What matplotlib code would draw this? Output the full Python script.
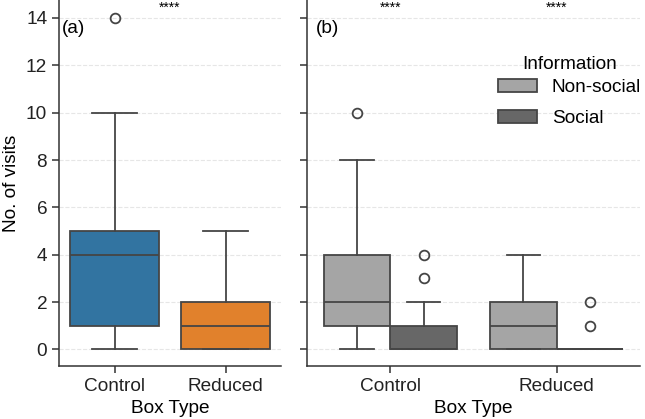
import matplotlib
matplotlib.use("Agg")
import matplotlib.pyplot as plt
from matplotlib.patches import Patch

plt.rcParams['font.family'] = ['Liberation Sans', 'DejaVu Sans']

# ---- data ----
categories = ["Control", "Reduced"]
info_levels = ["Non-social", "Social"]

# panel (a): box stats per box type  [whislo, q1, median, q3, whishi]
a_stats = {
    "Control": [0, 1, 4, 5, 10],
    "Reduced": [0, 0, 1, 2, 5],
}
a_fliers = {"Control": [14], "Reduced": []}

# panel (b): box stats per box type and information
b_stats = {
    ("Control", "Non-social"): [0, 1, 2, 4, 8],
    ("Control", "Social"): [0, 0, 0, 1, 2],
    ("Reduced", "Non-social"): [0, 0, 1, 2, 4],
    ("Reduced", "Social"): [0, 0, 0, 0, 0],
}
b_fliers = {
    ("Control", "Non-social"): [10],
    ("Control", "Social"): [3, 4],
    ("Reduced", "Non-social"): [],
    ("Reduced", "Social"): [1, 2],
}
signif_a = "****"
signif_b = ["****", "****"]

yticks = [0, 2, 4, 6, 8, 10, 12, 14]

# ---- styles ----
a_colors = ["#3274a1", "#e1812c"]
b_colors = {"Non-social": "#a5a5a5", "Social": "#676767"}
line_c = "#454545"
lw = 1.3
fs = 13.7


def mk(vals, fl, label=""):
    lo, q1, med, q3, hi = vals
    return dict(whislo=lo, q1=q1, med=med, q3=q3, whishi=hi, fliers=fl, label=label)


def style_bxp(ax, stats, positions, widths, colors):
    bp = ax.bxp(stats, positions=positions, widths=widths, patch_artist=True,
                showfliers=True, manage_ticks=False,
                boxprops=dict(edgecolor=line_c, linewidth=lw),
                medianprops=dict(color=line_c, linewidth=lw),
                whiskerprops=dict(color=line_c, linewidth=lw),
                capprops=dict(color=line_c, linewidth=lw),
                flierprops=dict(marker='o', markerfacecolor='none',
                                markeredgecolor=line_c, markersize=7,
                                markeredgewidth=1.3, linestyle='none'),
                capwidths=[w / 2 for w in widths])
    for patch, c in zip(bp['boxes'], colors):
        patch.set_facecolor(c)
    return bp


fig = plt.figure(figsize=(6.45, 4.19), dpi=100)
ax1 = fig.add_axes([59 / 645, 1 - 366 / 419, (281 - 59) / 645, 366 / 419])
ax2 = fig.add_axes([307 / 645, 1 - 366 / 419, (640 - 307) / 645, 366 / 419], sharey=ax1)

# panel a
stats_a = [mk(a_stats[c], a_fliers[c], c) for c in categories]
style_bxp(ax1, stats_a, positions=list(range(len(categories))),
          widths=[0.8] * len(categories), colors=a_colors)

# panel b
stats_b, pos_b, col_b = [], [], []
for i, c in enumerate(categories):
    for j, inf in enumerate(info_levels):
        stats_b.append(mk(b_stats[(c, inf)], b_fliers[(c, inf)]))
        pos_b.append(i - 0.2 + 0.4 * j)
        col_b.append(b_colors[inf])
style_bxp(ax2, stats_b, positions=pos_b, widths=[0.4] * len(stats_b), colors=col_b)

for ax in (ax1, ax2):
    ax.set_xlim(-0.5, 1.5)
    ax.set_ylim(-0.7, 14.76)
    ax.set_yticks(yticks)
    ax.set_xticks(range(len(categories)))
    ax.set_xticklabels(categories, fontsize=fs)
    ax.set_xlabel("Box Type", fontsize=fs, labelpad=4)
    ax.yaxis.grid(True, linestyle='--', color='#e6e6e6', linewidth=0.8)
    ax.set_axisbelow(True)
    for s in ("top", "right"):
        ax.spines[s].set_visible(False)
    for s in ("left", "bottom"):
        ax.spines[s].set_color("#333333")
        ax.spines[s].set_linewidth(1.1)
    ax.tick_params(axis='both', colors="#333333", labelcolor="#222222",
                   labelsize=fs, length=5, width=1.1)

ax1.set_ylabel("No. of visits", fontsize=fs)
plt.setp(ax2.get_yticklabels(), visible=False)

ax1.text(0.015, 0.923, "(a)", transform=ax1.transAxes, fontsize=fs, va='center', ha='left')
ax2.text(0.027, 0.923, "(b)", transform=ax2.transAxes, fontsize=fs, va='center', ha='left')

ax1.text(0.5, 14.45, signif_a, ha='center', va='center', fontsize=10)
for i, s in enumerate(signif_b):
    ax2.text(i, 14.45, s, ha='center', va='center', fontsize=10)

handles = [Patch(facecolor=b_colors[k], edgecolor=line_c, linewidth=lw) for k in info_levels]
leg = ax2.legend(handles, info_levels, title="Information", frameon=False,
                 fontsize=fs, title_fontsize=fs, loc='upper right',
                 bbox_to_anchor=(1.055, 0.893), handlelength=2.05, handleheight=0.65,
                 labelspacing=0.75, handletextpad=0.8)
leg._legend_box.sep = 4

fig.savefig("out.png", dpi=100)
